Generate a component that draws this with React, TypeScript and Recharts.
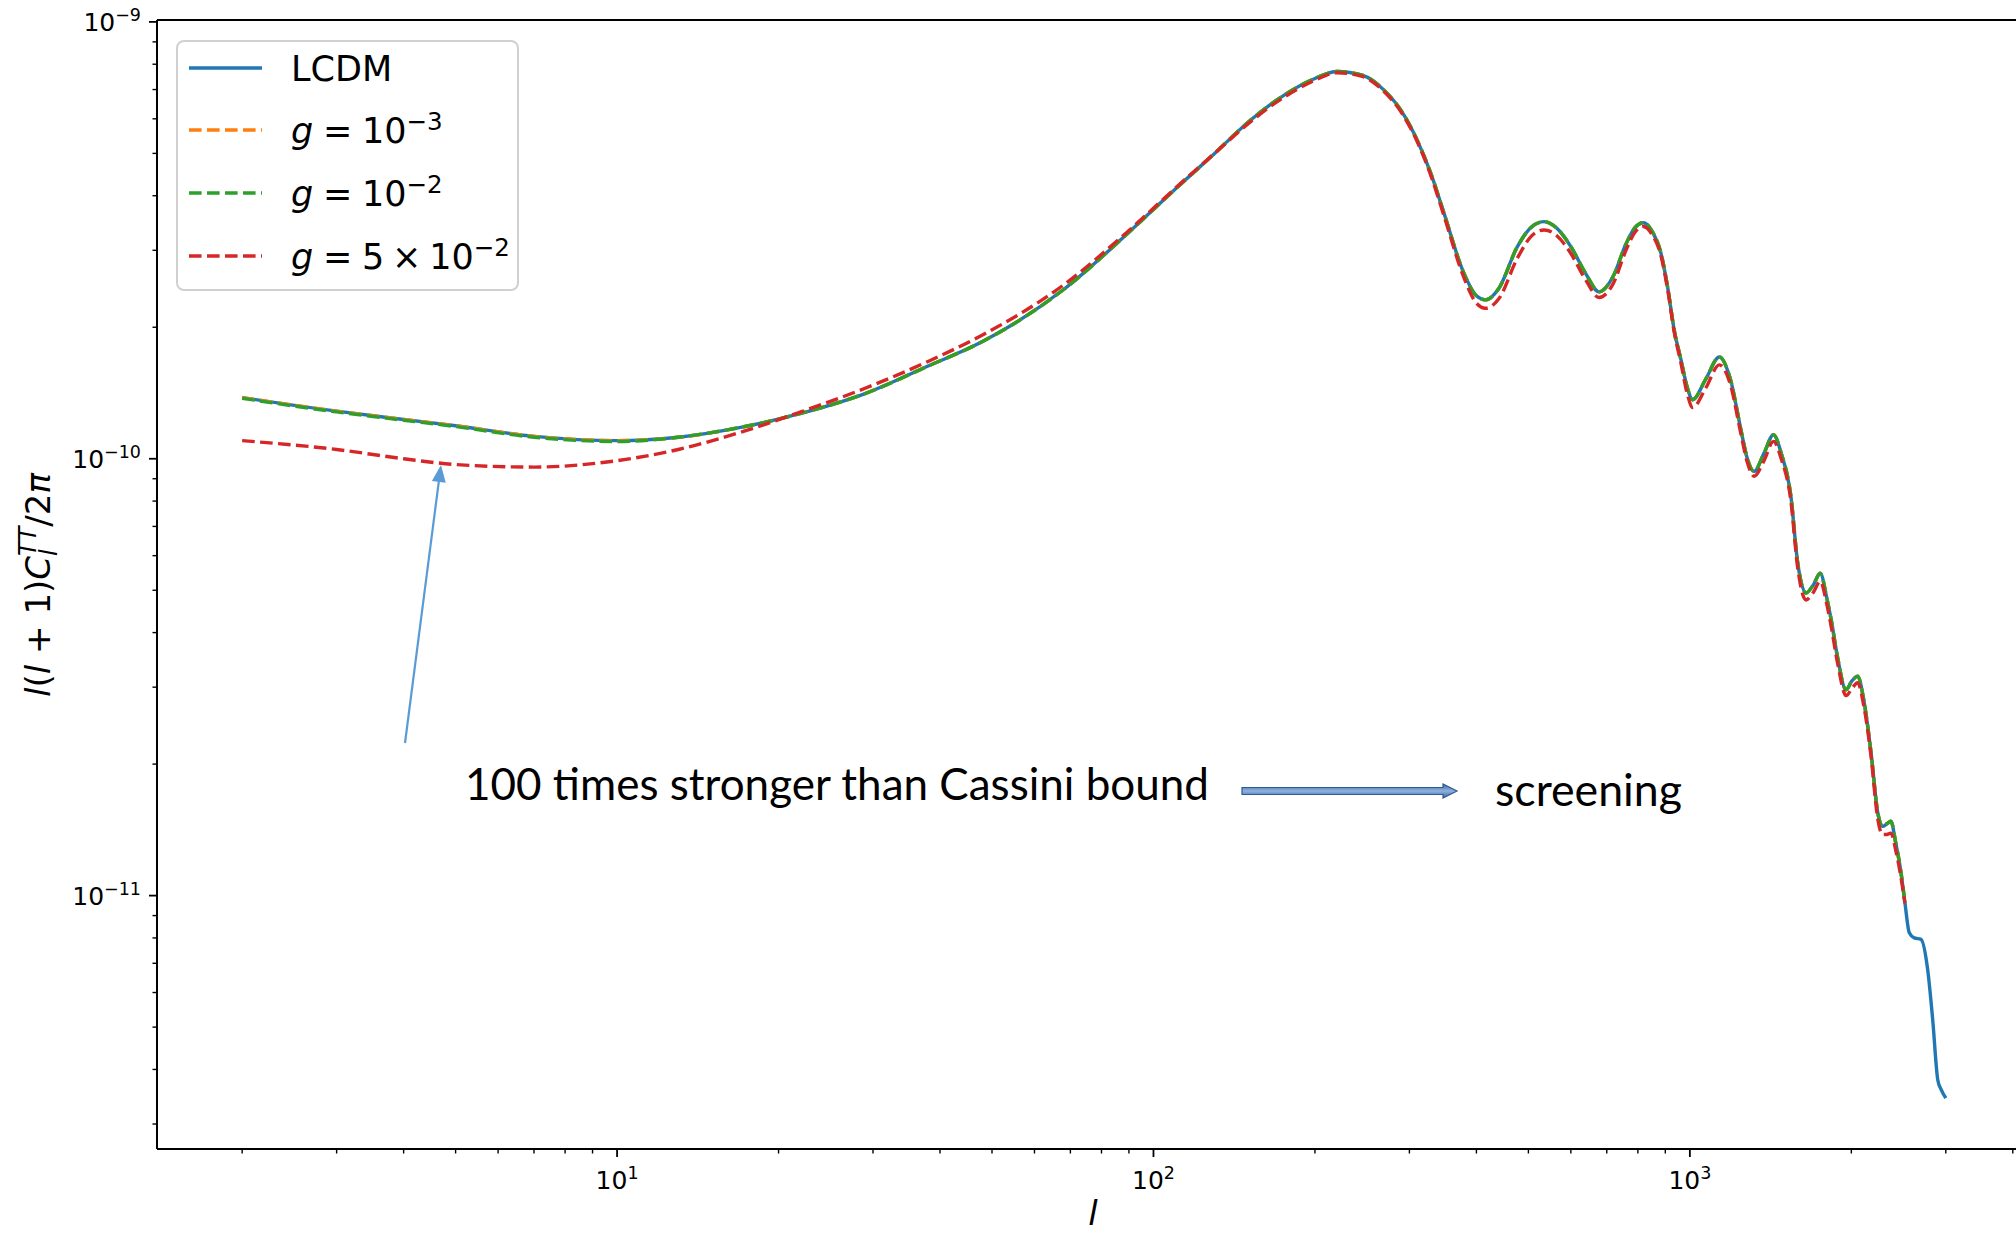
import React from 'react';
import { LineChart, Line, XAxis, YAxis, Legend, ReferenceLine } from 'recharts';

// multipoles shared by every curve
const ELL = [
  2, 3, 4, 5, 7, 10, 13, 17, 22, 29, 38, 48, 68, 90, 110, 130, 152, 175, 200, 220,
  245, 269, 290, 310, 330, 348, 379, 400, 416, 440, 477, 505, 535, 565, 600, 640, 677, 720, 760, 790,
  819, 850, 883, 910, 935, 962, 990, 1012, 1070, 1135, 1190, 1245, 1280, 1318, 1375, 1432, 1480, 1543, 1588, 1646,
  1700, 1750, 1800, 1833, 1886, 1955, 2005, 2055, 2110, 2177, 2240, 2287, 2330, 2370, 2420, 2475, 2518,
  2565, 2620, 2697, 2775, 2836, 2898, 2940, 3000,
];

// l(l+1)C_l^TT/2pi, in units of 1e-10
const LCDM = [
  1.38, 1.285, 1.23, 1.19, 1.125, 1.10, 1.12, 1.18, 1.27, 1.41, 1.63, 1.855, 2.44, 3.30, 4.15, 5.00, 5.97, 6.79, 7.42, 7.70,
  7.55, 6.98, 6.25, 5.37, 4.45, 3.65, 2.66, 2.36, 2.31, 2.45, 3.06, 3.38, 3.49, 3.37, 3.06, 2.65, 2.41, 2.62, 3.10, 3.38,
  3.47, 3.32, 2.96, 2.45, 1.97, 1.69, 1.45, 1.365, 1.52, 1.71, 1.52, 1.165, 1.0, 0.935, 1.03, 1.135, 1.03, 0.82, 0.58, 0.493,
  0.515, 0.547, 0.48, 0.43, 0.35, 0.296, 0.31, 0.318, 0.28, 0.212, 0.155, 0.144, 0.146, 0.148, 0.132, 0.113, 0.096,
  0.0822, 0.080, 0.0794, 0.0678, 0.052, 0.0379, 0.036, 0.0344,
];

// g = 1e-3 (runs to l = 2518)
const G_1E3 = [
  1.38, 1.285, 1.23, 1.19, 1.125, 1.10, 1.12, 1.18, 1.27, 1.41, 1.63, 1.855, 2.44, 3.30, 4.15, 5.00, 5.97, 6.79, 7.42, 7.70,
  7.55, 6.98, 6.25, 5.37, 4.45, 3.65, 2.66, 2.36, 2.31, 2.45, 3.06, 3.38, 3.49, 3.37, 3.06, 2.65, 2.41, 2.62, 3.10, 3.38,
  3.47, 3.32, 2.96, 2.45, 1.97, 1.69, 1.45, 1.365, 1.52, 1.71, 1.52, 1.165, 1.0, 0.935, 1.03, 1.135, 1.03, 0.82, 0.58, 0.493,
  0.515, 0.547, 0.48, 0.43, 0.35, 0.296, 0.31, 0.318, 0.28, 0.212, 0.155, 0.144, 0.146, 0.148, 0.132, 0.113, 0.096,
];

// g = 1e-2 (runs to l = 2518)
const G_1E2 = [
  1.375, 1.28, 1.225, 1.185, 1.12, 1.095, 1.12, 1.18, 1.27, 1.41, 1.63, 1.855, 2.44, 3.30, 4.15, 5.00, 5.97, 6.79, 7.42, 7.70,
  7.55, 6.98, 6.25, 5.37, 4.45, 3.65, 2.66, 2.36, 2.31, 2.45, 3.06, 3.38, 3.49, 3.37, 3.06, 2.65, 2.41, 2.62, 3.10, 3.38,
  3.47, 3.32, 2.96, 2.45, 1.97, 1.69, 1.45, 1.365, 1.52, 1.71, 1.52, 1.165, 1.0, 0.935, 1.03, 1.135, 1.03, 0.82, 0.58, 0.493,
  0.515, 0.547, 0.48, 0.43, 0.35, 0.296, 0.31, 0.318, 0.28, 0.212, 0.155, 0.144, 0.146, 0.148, 0.132, 0.113, 0.096,
];

// g = 5e-2 (runs to l = 2518)
const G_5E2 = [
  1.10, 1.05, 1.00, 0.97, 0.957, 0.99, 1.05, 1.15, 1.28, 1.45, 1.67, 1.92, 2.50, 3.33, 4.17, 5.00, 5.92, 6.72, 7.35, 7.65,
  7.50, 6.93, 6.20, 5.33, 4.40, 3.60, 2.60, 2.27, 2.21, 2.32, 2.88, 3.22, 3.34, 3.24, 2.95, 2.56, 2.34, 2.52, 3.00, 3.30,
  3.40, 3.26, 2.92, 2.42, 1.95, 1.66, 1.40, 1.31, 1.45, 1.64, 1.48, 1.14, 0.98, 0.912, 0.99, 1.096, 1.0, 0.80, 0.565, 0.475,
  0.495, 0.524, 0.465, 0.415, 0.34, 0.287, 0.298, 0.307, 0.272, 0.208, 0.15, 0.138, 0.138, 0.139, 0.127, 0.11, 0.096,
];

const UNIT = 1e-10;

const X_DOMAIN = [1.3876, 4325];
const Y_DOMAIN = [2.63e-12, 1.01e-9];

const X_TICKS = [
  2, 3, 4, 5, 6, 7, 8, 9, 10,
  20, 30, 40, 50, 60, 70, 80, 90, 100,
  200, 300, 400, 500, 600, 700, 800, 900, 1000,
  2000, 3000, 4000,
];
const Y_TICKS = [
  3e-12, 4e-12, 5e-12, 6e-12, 7e-12, 8e-12, 9e-12, 1e-11,
  2e-11, 3e-11, 4e-11, 5e-11, 6e-11, 7e-11, 8e-11, 9e-11, 1e-10,
  2e-10, 3e-10, 4e-10, 5e-10, 6e-10, 7e-10, 8e-10, 9e-10, 1e-9,
];

const toRows = (vals: number[]) => vals.map((c, i) => ({ l: ELL[i], c: c * UNIT }));

// label: [coefficient, exponent] for the g curves
const SERIES = [
  { key: 'lcdm', rows: toRows(LCDM), color: '#1f77b4', dash: undefined as string | undefined, label: null as null | [string, string] },
  { key: 'g3', rows: toRows(G_1E3), color: '#ff7f0e', dash: '12.6 5.4', label: ['', '−3'] as [string, string] },
  { key: 'g2', rows: toRows(G_1E2), color: '#2ca02c', dash: '12.6 5.4', label: ['', '−2'] as [string, string] },
  { key: 'g5', rows: toRows(G_5E2), color: '#d62728', dash: '12.6 5.4', label: ['5', '−2'] as [string, string] },
];

const FONT = '"DejaVu Sans", sans-serif';
const LW = 3.4;

const decade = (v: number) => {
  const e = Math.log10(v);
  return Math.abs(e - Math.round(e)) < 1e-6 ? Math.round(e) : null;
};

const XTick = (props: any) => {
  const { x, y, payload } = props;
  const e = decade(payload.value);
  const major = e !== null;
  return (
    <g>
      <line x1={x} x2={x} y1={y} y2={y + (major ? 8 : 4.5)} stroke="#000" strokeWidth={major ? 1.8 : 1.4} />
      {major && (
        <text x={x} y={y + 40} textAnchor="middle" fontFamily={FONT} fontSize={25} fill="#000">
          10<tspan dy={-10} fontSize={17.5}>{String(e)}</tspan>
        </text>
      )}
    </g>
  );
};

const YTick = (props: any) => {
  const { x, y, payload } = props;
  const e = decade(payload.value);
  const major = e !== null;
  return (
    <g>
      <line x1={x} x2={x - (major ? 8 : 4.5)} y1={y} y2={y} stroke="#000" strokeWidth={major ? 1.8 : 1.4} />
      {major && (
        <text x={x - 16} y={y + 9} textAnchor="end" fontFamily={FONT} fontSize={25} fill="#000">
          10<tspan dy={-10} fontSize={17.5}>{'−' + String(-e)}</tspan>
        </text>
      )}
    </g>
  );
};

const LegendBox = () => {
  const rowY = [28, 90, 153, 216];
  return (
    <svg width={343} height={251} style={{ display: 'block' }}>
      <rect x={1} y={1} width={341} height={249} rx={7} ry={7} fill="rgba(255,255,255,0.8)" stroke="#d0d0d0" strokeWidth={2} />
      {SERIES.map((s, i) => (
        <g key={s.key}>
          <line x1={13} x2={86} y1={rowY[i]} y2={rowY[i]} stroke={s.color} strokeWidth={LW} strokeDasharray={s.dash} />
          {s.label === null ? (
            <text x={115} y={rowY[i] + 12.5} fontFamily={FONT} fontSize={35} fill="#000">LCDM</text>
          ) : (
            <text x={115} y={rowY[i] + 12.5} fontFamily={FONT} fontSize={35} fill="#000">
              <tspan fontStyle="italic">g</tspan>
              <tspan dx={9.7}>=</tspan>
              {s.label[0] ? (
                <>
                  <tspan dx={9.7}>{s.label[0]}</tspan>
                  <tspan dx={7.8}>×</tspan>
                  <tspan dx={7.8}>10</tspan>
                </>
              ) : (
                <tspan dx={9.7}>10</tspan>
              )}
              <tspan dy={-13} fontSize={24.5}>{s.label[1]}</tspan>
            </text>
          )}
        </g>
      ))}
    </svg>
  );
};

// arrowhead polygon for a straight pointer ending at (x2, y2)
const headPoints = (x1: number, y1: number, x2: number, y2: number, len: number, half: number) => {
  const d = Math.hypot(x2 - x1, y2 - y1);
  const ux = (x2 - x1) / d;
  const uy = (y2 - y1) / d;
  const bx = x2 - ux * len;
  const by = y2 - uy * len;
  return `${x2},${y2} ${bx - uy * half},${by + ux * half} ${bx + uy * half},${by - ux * half}`;
};

const Annotations = () => (
  <svg width={2016} height={1234} style={{ position: 'absolute', left: 0, top: 0, pointerEvents: 'none' }}>
    <defs>
      <linearGradient id="blockArrow" x1="0" y1="0" x2="0" y2="1">
        <stop offset="0%" stopColor="#3a67a6" />
        <stop offset="50%" stopColor="#8fb1de" />
        <stop offset="100%" stopColor="#3a67a6" />
      </linearGradient>
    </defs>

    {/* axis titles */}
    <text transform="translate(50,585) rotate(-90)" textAnchor="middle" fontFamily={FONT} fontSize={34} fill="#000">
      <tspan fontStyle="italic">l</tspan>(<tspan fontStyle="italic">l</tspan> + 1)<tspan fontStyle="italic">C</tspan>
      <tspan fontStyle="italic" fontSize={24} dy={7}>l</tspan>
      <tspan fontStyle="italic" fontSize={24} dx={-6.7} dy={-21}>TT</tspan>
      <tspan dy={14}>/2</tspan><tspan fontStyle="italic">π</tspan>
    </text>
    <text x={1093} y={1225} textAnchor="middle" fontFamily={FONT} fontStyle="italic" fontSize={34} fill="#000">l</text>

    {/* pointer to the g = 5e-2 curve */}
    <line x1={405} y1={743} x2={439} y2={480} stroke="#5b9bd5" strokeWidth={2.2} />
    <polygon points={headPoints(405, 743, 441, 465, 17, 7)} fill="#5b9bd5" />

    <text x={465} y={800} fontFamily="Lato, sans-serif" fontSize={45} fill="#000" textLength={744} lengthAdjust="spacingAndGlyphs">
      100 times stronger than Cassini bound
    </text>

    <polygon
      points="1242,787.5 1443,787.5 1443,784 1457,791 1443,798 1443,794.5 1242,794.5"
      fill="url(#blockArrow)"
      stroke="#2f5b94"
      strokeWidth={1.2}
    />

    <text x={1495} y={806} fontFamily="Lato, sans-serif" fontSize={45} fill="#000" textLength={187} lengthAdjust="spacingAndGlyphs">
      screening
    </text>
  </svg>
);

export default function App() {
  return (
    <div style={{ position: 'absolute', left: 0, top: 0, width: 2016, height: 1234, overflow: 'hidden', background: '#fff' }}>
      <LineChart width={2041} height={1234} margin={{ top: 20, right: 10, bottom: 0, left: 0 }}>
        <XAxis
          type="number"
          dataKey="l"
          scale="log"
          domain={X_DOMAIN}
          allowDataOverflow
          ticks={X_TICKS}
          interval={0}
          tick={<XTick />}
          tickLine={false}
          tickSize={0}
          tickMargin={0}
          height={85}
          axisLine={{ stroke: '#000', strokeWidth: 2 }}
        />
        <YAxis
          type="number"
          scale="log"
          domain={Y_DOMAIN}
          allowDataOverflow
          ticks={Y_TICKS}
          interval={0}
          tick={<YTick />}
          tickLine={false}
          tickSize={0}
          tickMargin={0}
          width={157}
          axisLine={{ stroke: '#000', strokeWidth: 2 }}
        />
        <ReferenceLine y={Y_DOMAIN[1]} stroke="#000" strokeWidth={2} />
        <ReferenceLine x={X_DOMAIN[1]} stroke="#000" strokeWidth={2} />
        {SERIES.map((s) => (
          <Line
            key={s.key}
            data={s.rows}
            dataKey="c"
            type="monotone"
            stroke={s.color}
            strokeWidth={LW}
            strokeDasharray={s.dash}
            dot={false}
            activeDot={false}
            isAnimationActive={false}
          />
        ))}
        <Legend
          layout="horizontal"
          verticalAlign="middle"
          align="center"
          content={() => <LegendBox />}
          wrapperStyle={{ left: 176, top: 40, width: 343, height: 251, margin: 0, padding: 0, lineHeight: 0 }}
        />
      </LineChart>
      <Annotations />
    </div>
  );
}
